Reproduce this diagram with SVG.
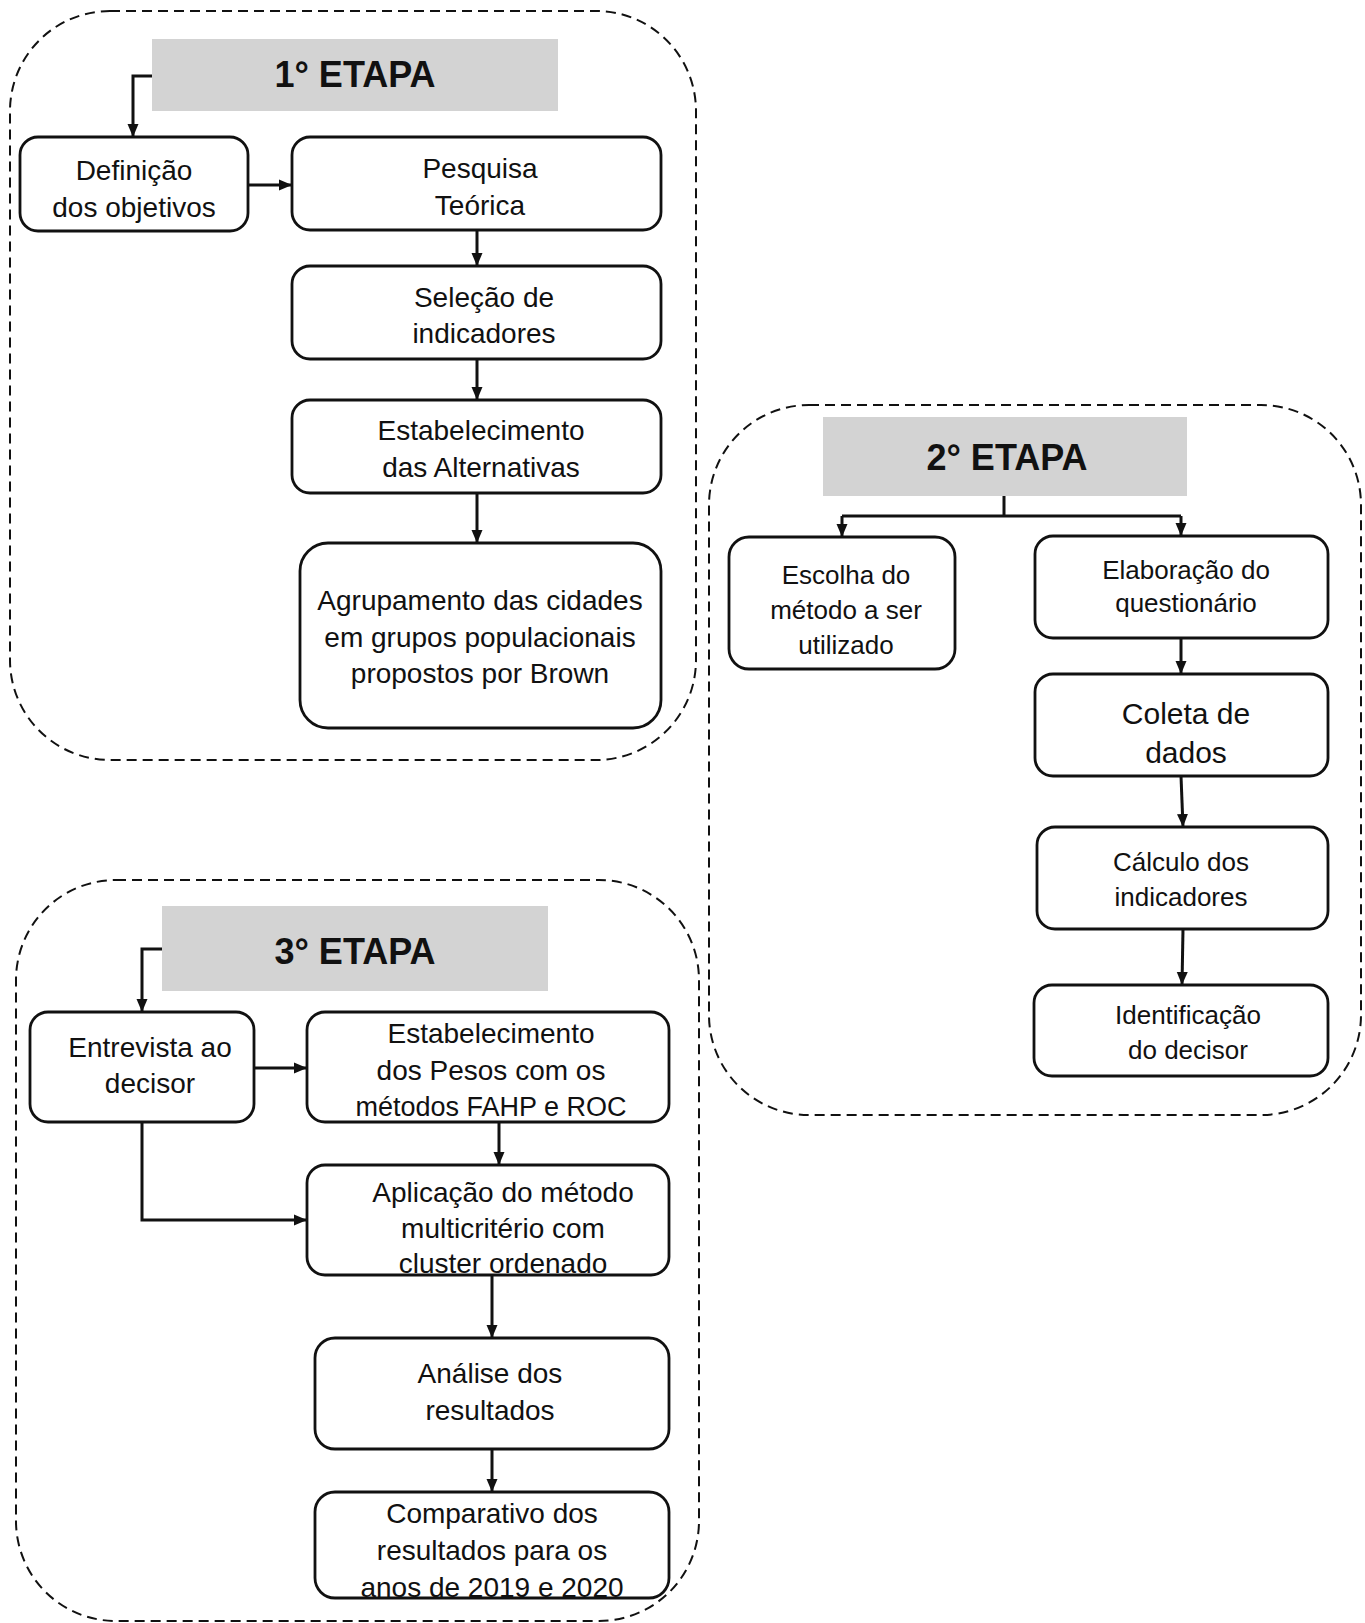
<svg xmlns="http://www.w3.org/2000/svg" width="1365" height="1623" viewBox="0 0 1365 1623">
<style>
.stage{fill:none;stroke:#111;stroke-width:2;stroke-dasharray:10 6}
.hdr{fill:#d3d3d3;stroke:none}
.box{fill:#fff;stroke:#111;stroke-width:2.8}
.t{font-family:"Liberation Sans",Arial,sans-serif;font-size:26px;fill:#111;text-anchor:middle;dominant-baseline:central}
.big{font-size:28px}
.h{font-family:"Liberation Sans",Arial,sans-serif;font-size:36px;font-weight:bold;fill:#111;text-anchor:middle;dominant-baseline:central}
.c{fill:none;stroke:#111;stroke-width:3}
</style>
<defs>
<marker id="arr" markerUnits="userSpaceOnUse" markerWidth="14" markerHeight="12" refX="13" refY="6" orient="auto">
<path d="M0,0.5 L13,6 L0,11.5 z" fill="#111"/>
</marker>
</defs>
<rect width="1365" height="1623" fill="#fff"/>

<g id="stage1">
<rect class="stage" x="10" y="11" width="686" height="749" rx="100"/>
<rect class="hdr" x="152" y="39" width="406" height="72"/>
<text class="h" x="355" y="74">1° ETAPA</text>
</g>
<g id="stage2">
<rect class="stage" x="709" y="405" width="652" height="710" rx="100"/>
<rect class="hdr" x="823" y="417" width="364" height="79"/>
<text class="h" x="1007" y="457">2° ETAPA</text>
</g>
<g id="stage3">
<rect class="stage" x="16" y="880" width="683" height="741" rx="100"/>
<rect class="hdr" x="162" y="906" width="386" height="85"/>
<text class="h" x="355" y="951">3° ETAPA</text>
</g>

<g id="connectors">
<path class="c" d="M152,76 H133 V137" marker-end="url(#arr)"/>
<path class="c" d="M248,185 H292" marker-end="url(#arr)"/>
<path class="c" d="M477,230 V266" marker-end="url(#arr)"/>
<path class="c" d="M477,359 V400" marker-end="url(#arr)"/>
<path class="c" d="M477,493 V543" marker-end="url(#arr)"/>

<path class="c" d="M1004,496 V516"/>
<path class="c" d="M842,516 H1181"/>
<path class="c" d="M842,516 V537" marker-end="url(#arr)"/>
<path class="c" d="M1181,516 V536" marker-end="url(#arr)"/>
<path class="c" d="M1181,638 V674" marker-end="url(#arr)"/>
<path class="c" d="M1181,776 L1183,827" marker-end="url(#arr)"/>
<path class="c" d="M1183,929 L1182,985" marker-end="url(#arr)"/>

<path class="c" d="M162,949 H142 V1012" marker-end="url(#arr)"/>
<path class="c" d="M254,1068 H307" marker-end="url(#arr)"/>
<path class="c" d="M499,1122 V1165" marker-end="url(#arr)"/>
<path class="c" d="M142,1122 V1220 H307" marker-end="url(#arr)"/>
<path class="c" d="M492,1275 V1338" marker-end="url(#arr)"/>
<path class="c" d="M492,1449 V1492" marker-end="url(#arr)"/>
</g>

<g id="n-definicao">
<rect class="box" x="20" y="137" width="228" height="94" rx="18"/>
<text class="t big" x="134" y="170">Definição</text>
<text class="t big" x="134" y="207">dos objetivos</text>
</g>
<g id="n-pesquisa">
<rect class="box" x="292" y="137" width="369" height="93" rx="18"/>
<text class="t big" x="480" y="168">Pesquisa</text>
<text class="t big" x="480" y="205">Teórica</text>
</g>
<g id="n-selecao">
<rect class="box" x="292" y="266" width="369" height="93" rx="18"/>
<text class="t big" x="484" y="297">Seleção de</text>
<text class="t big" x="484" y="333">indicadores</text>
</g>
<g id="n-alternativas">
<rect class="box" x="292" y="400" width="369" height="93" rx="18"/>
<text class="t big" x="481" y="430">Estabelecimento</text>
<text class="t big" x="481" y="467">das Alternativas</text>
</g>
<g id="n-agrupamento">
<rect class="box" x="300" y="543" width="361" height="185" rx="28"/>
<text class="t big" x="480" y="600">Agrupamento das cidades</text>
<text class="t big" x="480" y="637">em grupos populacionais</text>
<text class="t big" x="480" y="673">propostos por Brown</text>
</g>

<g id="n-escolha">
<rect class="box" x="729" y="537" width="226" height="132" rx="20"/>
<text class="t" x="846" y="575">Escolha do</text>
<text class="t" x="846" y="610">método a ser</text>
<text class="t" x="846" y="645">utilizado</text>
</g>
<g id="n-elaboracao">
<rect class="box" x="1035" y="536" width="293" height="102" rx="18"/>
<text class="t" x="1186" y="570">Elaboração do</text>
<text class="t" x="1186" y="603">questionário</text>
</g>
<g id="n-coleta">
<rect class="box" x="1035" y="674" width="293" height="102" rx="18"/>
<text class="t" style="font-size:30px" x="1186" y="713">Coleta de</text>
<text class="t" style="font-size:30px" x="1186" y="752">dados</text>
</g>
<g id="n-calculo">
<rect class="box" x="1037" y="827" width="291" height="102" rx="18"/>
<text class="t" x="1181" y="862">Cálculo dos</text>
<text class="t" x="1181" y="897">indicadores</text>
</g>
<g id="n-identificacao">
<rect class="box" x="1034" y="985" width="294" height="91" rx="18"/>
<text class="t" x="1188" y="1015">Identificação</text>
<text class="t" x="1188" y="1050">do decisor</text>
</g>

<g id="n-entrevista">
<rect class="box" x="30" y="1012" width="224" height="110" rx="18"/>
<text class="t big" x="150" y="1047">Entrevista ao</text>
<text class="t big" x="150" y="1083">decisor</text>
</g>
<g id="n-pesos">
<rect class="box" x="307" y="1012" width="362" height="110" rx="18"/>
<text class="t big" x="491" y="1033">Estabelecimento</text>
<text class="t big" x="491" y="1070">dos Pesos com os</text>
<text class="t" style="font-size:27px" x="491" y="1107">métodos FAHP e ROC</text>
</g>
<g id="n-aplicacao">
<rect class="box" x="307" y="1165" width="362" height="110" rx="18"/>
<text class="t big" x="503" y="1192">Aplicação do método</text>
<text class="t big" x="503" y="1228">multicritério com</text>
<text class="t big" x="503" y="1263">cluster ordenado</text>
</g>
<g id="n-analise">
<rect class="box" x="315" y="1338" width="354" height="111" rx="20"/>
<text class="t big" x="490" y="1373">Análise dos</text>
<text class="t big" x="490" y="1410">resultados</text>
</g>
<g id="n-comparativo">
<rect class="box" x="315" y="1492" width="354" height="106" rx="20"/>
<text class="t big" x="492" y="1513">Comparativo dos</text>
<text class="t big" x="492" y="1550">resultados para os</text>
<text class="t big" x="492" y="1587">anos de 2019 e 2020</text>
</g>
</svg>
